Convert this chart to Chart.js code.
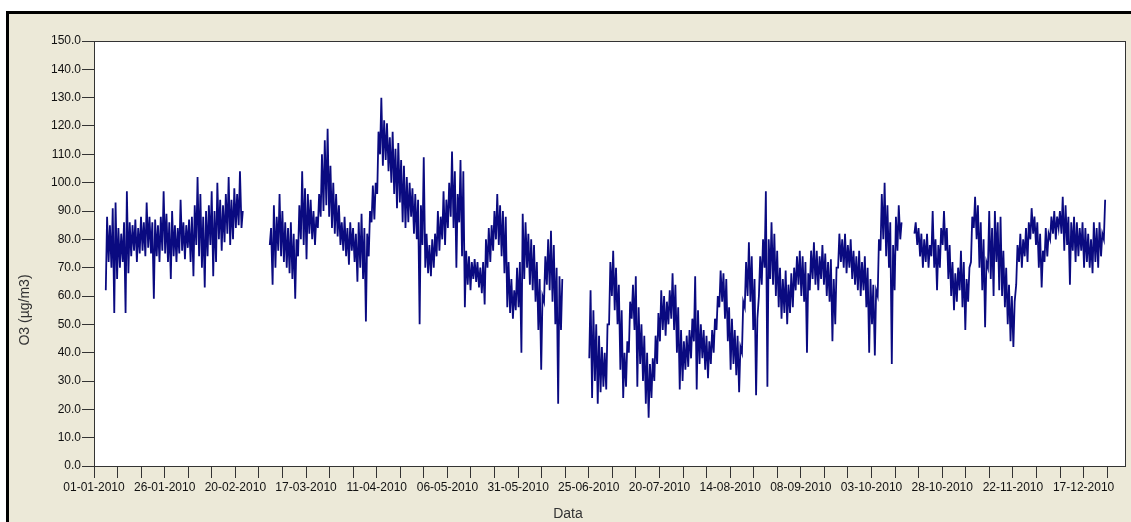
<!DOCTYPE html>
<html>
<head>
<meta charset="utf-8">
<script src="https://cdn.jsdelivr.net/npm/chart.js@4.4.1/dist/chart.umd.min.js"></script>
<style>
  html, body { margin: 0; padding: 0; background: #fff; }
  #frame {
    position: absolute; left: 6px; top: 11px; width: 1130px; height: 520px;
    border-left: 3px solid #000; border-top: 3px solid #000;
    background: #ECE9D8;
  }
  #wrap { position: absolute; left: 0; top: 0; width: 1131px; height: 522px; }
</style>
</head>
<body>
<div id="frame"></div>
<div id="wrap"><canvas id="myChart" width="1131" height="522"></canvas></div>
<script>
/** Tick labels (every 3rd tick, 600 h = 25 days) */
var dateLabels = ['01-01-2010', '26-01-2010', '20-02-2010', '17-03-2010', '11-04-2010',
  '06-05-2010', '31-05-2010', '25-06-2010', '20-07-2010', '14-08-2010',
  '08-09-2010', '03-10-2010', '28-10-2010', '22-11-2010', '17-12-2010'];

/** O3 daily low / high, per block of days with data (day 0 = 01-01-2010) */
var janFebStart = 4;
var janFebLow  = [62,72,70,54,66,70,72,54,68,74, 76,72,75,76,74,77,75,59,74,72, 76,75,72,66,74,72,75,76,73,77, 72,67,78,74,70,63,74,78,67,72, 80,76,79,82,78,80,84,85,84];
var janFebHigh = [88,85,91,93,84,82,86,97,86,85, 87,84,88,86,93,88,86,87,85,88, 97,89,86,90,85,84,94,86,85,87, 88,92,102,96,88,90,92,97,90,100, 94,92,96,102,94,98,96,104,90];

var marJunStart = 62;
var marJunLow  = [78,64,70,76,74,72,70,68,66,59, 74,80,78,73,82,80,78,84,88,90, 92,88,84,82,81,78,76,74,71,76, 72,65,70,66,51,74,86,87,96,110,
  106,108,104,100,96,91,93,86,84,86, 88,82,80,50,78,70,68,67,70,74, 76,80,78,84,88,84,70,86,74,56, 64,62,66,65,63,61,57,70,72,76,
  80,78,74,68,56,54,52,55,56,40, 66,70,64,62,58,48,34,58,64,62, 58,50,22,48];
var marJunHigh = [84,92,88,96,90,86,84,86,82,80, 92,104,98,96,94,90,88,96,110,115, 119,106,100,96,92,86,88,84,86,84, 82,86,89,84,82,90,99,100,118,130,
  122,121,116,118,112,114,108,106,102,100, 98,96,94,92,109,82,78,80,82,90, 88,97,94,100,111,104,96,108,104,76, 74,72,73,72,70,72,80,84,85,90,
  96,92,90,88,72,66,62,70,72,89, 86,82,80,78,72,66,60,74,80,83, 78,70,67,66];

var junOctStart = 175;
var junOctLow  = [38,24,30,22,26,28,27,50,60,55, 50,34,24,28,40,52,48,28,36,30, 22,17,24,30,36,44,48,46,50,52, 48,40,27,30,34,35,38,44,27,36,
  38,34,31,36,40,48,56,58,52,44, 34,36,32,26,40,56,60,58,48,25, 60,64,70,28,66,64,60,56,52,54, 50,54,56,62,64,60,58,40,62,66,
  64,62,66,64,60,58,44,50,70,72, 70,68,70,66,64,62,60,62,56,40, 50,39,60,76,80,74,70,36,62,76, 80];
var junOctHigh = [62,55,50,46,42,40,50,72,76,70, 64,55,40,44,58,64,67,56,50,46, 40,36,38,46,54,62,60,58,62,68, 64,56,48,44,46,48,52,67,55,50,
  48,46,44,48,52,60,69,68,66,56, 52,48,46,42,58,72,79,74,66,52, 74,80,97,80,86,82,76,70,66,69, 64,68,70,74,76,74,72,68,76,79,
  76,74,78,75,72,73,66,70,82,80, 82,78,80,76,74,76,72,74,70,66, 64,62,80,96,100,92,86,78,88,92, 86];

var octDecStart = 290;
var octDecLow  = [82,78,74,70,72,70,74,70,62,70, 78,76,66,60,55,58,62,56,48,58, 72,84,80,70,62,49,70,66,60,72, 62,60,56,50,44,42,64,72,70,74,
  72,80,82,78,70,63,72,74,80,82, 80,84,82,76,78,64,76,72,74,76, 70,72,70,68,72,70,74,80];
var octDecHigh = [86,84,82,80,82,78,90,80,78,84, 90,84,78,72,68,70,76,72,66,70, 88,95,92,86,80,72,90,84,90,86, 88,76,70,64,60,58,78,82,80,84,
  86,91,88,86,82,76,84,82,88,90, 88,90,95,92,88,86,88,86,84,86, 84,82,80,86,84,86,82,94];

/** Points in hours since 01-01-2010, null breaks the line at the gaps */
var points = [];
function addBlock(start, lows, highs) {
  for (var i = 0; i < lows.length; i++) {
    var h = (start + i) * 24;
    points.push({x: h + 4, y: lows[i]});
    points.push({x: h + 15, y: highs[i]});
  }
  points.push({x: (start + lows.length) * 24 + 2, y: null});
}
addBlock(janFebStart, janFebLow, janFebHigh);
addBlock(marJunStart, marJunLow, marJunHigh);
addBlock(junOctStart, junOctLow, junOctHigh);
addBlock(octDecStart, octDecLow, octDecHigh);

/** Plot background, frame and axis titles */
var plotFrame = {
  id: 'plotFrame',
  beforeDatasetsDraw: function(chart) {
    var a = chart.chartArea, c = chart.ctx;
    c.save();
    c.fillStyle = '#ffffff';
    c.fillRect(a.left, a.top, a.right - a.left, a.bottom - a.top);
    c.restore();
  },
  afterDraw: function(chart) {
    var a = chart.chartArea, c = chart.ctx;
    c.save();
    c.strokeStyle = '#333333';
    c.lineWidth = 1;
    c.strokeRect(a.left + 0.5, a.top + 0.5, a.right - a.left - 1, a.bottom - a.top);
    c.fillStyle = '#333333';
    c.font = '14px "Liberation Sans", Arial, sans-serif';
    c.textAlign = 'center';
    c.textBaseline = 'middle';
    c.fillText('Data', 568, 514);
    c.translate(25, 310);
    c.rotate(-Math.PI / 2);
    c.fillText('O3 (\u00b5g/m3)', 0, 0);
    c.restore();
  }
};

Chart.defaults.font.family = '"Liberation Sans", Arial, sans-serif';
Chart.defaults.font.size = 12;
Chart.defaults.color = '#111111';

var ctx = document.getElementById('myChart').getContext('2d');
var myChart = new Chart(ctx, {
  type: 'line',
  data: {
    datasets: [{
      label: 'O3',
      data: points,
      borderColor: '#0a0a80',
      borderWidth: 1.8,
      pointRadius: 0,
      tension: 0,
      spanGaps: false
    }]
  },
  options: {
    responsive: false,
    animation: false,
    events: [],
    layout: { padding: { left: 0, top: 41, right: 5, bottom: 0 } },
    plugins: { legend: { display: false }, tooltip: { enabled: false } },
    scales: {
      x: {
        type: 'linear',
        min: 0,
        max: 8760,
        afterFit: function(s) { s.height = 56; },
        afterBuildTicks: function(s) {
          var t = [];
          for (var v = 0; v < 8760; v += 200) t.push({value: v});
          s.ticks = t;
        },
        border: { display: false },
        grid: { drawOnChartArea: false, drawTicks: true, tickLength: 12, tickColor: '#333333', lineWidth: 1 },
        ticks: {
          autoSkip: false,
          maxRotation: 0,
          minRotation: 0,
          padding: 2,
          callback: function(v, i) { return i % 3 === 0 ? dateLabels[i / 3] : ''; }
        }
      },
      y: {
        min: 0,
        max: 150,
        afterFit: function(s) { s.width = 94; },
        border: { display: false },
        grid: { drawOnChartArea: false, drawTicks: true, tickLength: 12, tickColor: '#333333', lineWidth: 1 },
        ticks: {
          stepSize: 10,
          padding: 1,
          callback: function(v) { return v.toFixed(1); }
        }
      }
    }
  },
  plugins: [plotFrame]
});
</script>
</body>
</html>
